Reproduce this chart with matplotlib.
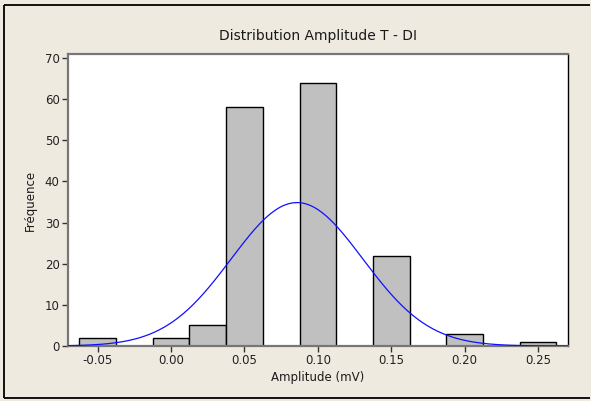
import numpy as np
import matplotlib.pyplot as plt
from matplotlib.lines import Line2D

# Histogram bins (centres, mV) and counts
bin_centers = [-0.05, -0.025, 0.0, 0.025, 0.05, 0.075, 0.10, 0.125, 0.15, 0.175, 0.20, 0.225, 0.25]
counts = [2, 0, 2, 5, 58, 0, 64, 0, 22, 0, 3, 0, 1]
bin_width = 0.025

# Normal fit parameters
fit_mean = 0.0858
fit_std = 0.0449
n_total = sum(counts)

x_ticks = [-0.05, 0.00, 0.05, 0.10, 0.15, 0.20, 0.25]
y_ticks = [0, 10, 20, 30, 40, 50, 60, 70]

bg = '#EEEAE0'
fig = plt.figure(figsize=(5.91, 4.01), dpi=100, facecolor=bg)
fig.patch.set_linewidth(0)
ax = fig.add_axes([68/591, 1 - 346/401, 500/591, 292/401])

ax.bar(bin_centers, counts, width=bin_width, color='#C0C0C0',
       edgecolor='black', linewidth=1.0, zorder=2)

xs = np.linspace(-0.0702, 0.2704, 400)
pdf = np.exp(-0.5 * ((xs - fit_mean) / fit_std) ** 2) / (fit_std * np.sqrt(2 * np.pi))
ax.plot(xs, pdf * n_total * bin_width, color='#1010FF', linewidth=0.9, zorder=3)

ax.set_xlim(-0.0702, 0.2704)
ax.set_ylim(0, 71)
ax.set_xticks(x_ticks)
ax.set_xticklabels(['%.2f' % t for t in x_ticks])
ax.set_yticks(y_ticks)
ax.tick_params(direction='out', length=4, width=1, color='#333333',
               labelsize=8.5, labelcolor='#222222', pad=2)

for side in ['left', 'top', 'bottom']:
    ax.spines[side].set_color('#777777')
    ax.spines[side].set_linewidth(1.6)
ax.spines['right'].set_color('black')
ax.spines['right'].set_linewidth(1.0)

ax.set_title('Distribution Amplitude T - DI', fontsize=10, color='#1a1a1a', pad=10)
ax.set_xlabel('Amplitude (mV)', fontsize=8.5, color='#1a1a1a', labelpad=3)
ax.set_ylabel('Fréquence', fontsize=8.5, color='#1a1a1a', labelpad=6)

# outer frame (open on the right, cut off in the original)
x0, y0, y1 = 4/591, 1 - 398/401, 1 - 5/401
x_end = 590/591
for xx, yy in [([x0, x_end], [y1, y1]), ([x0, x_end], [y0, y0]), ([x0, x0], [y0, y1])]:
    fig.add_artist(Line2D(xx, yy, transform=fig.transFigure, color='black',
                          linewidth=1.3, solid_capstyle='butt'))

fig.savefig('out.png', dpi=100, facecolor=bg, edgecolor='none')
